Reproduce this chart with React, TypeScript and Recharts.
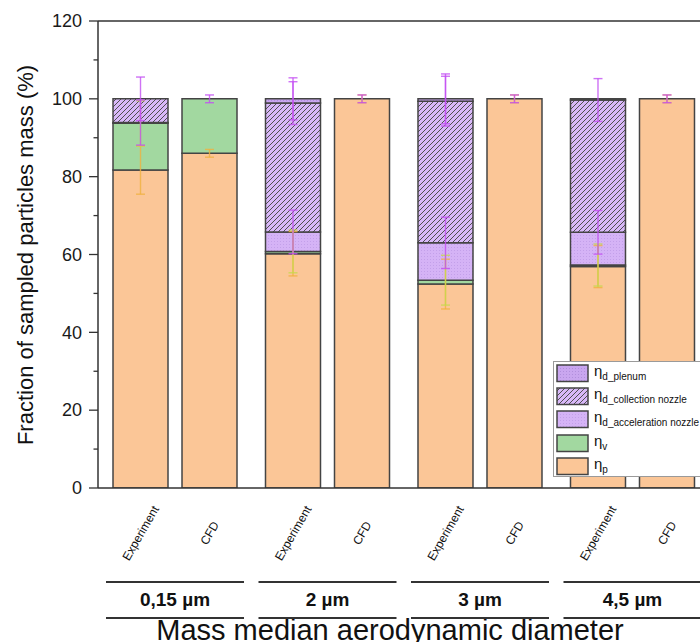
import React from 'react';
import { ComposedChart, Bar, XAxis, YAxis, Scatter, ErrorBar, ReferenceLine } from 'recharts';

// ---------------- data ----------------
const sizeLabels = ['0,15 µm', '2 µm', '3 µm', '4,5 µm'];
const methodLabels = ['Experiment', 'CFD'];

// bar order: Exp 0.15, CFD 0.15, Exp 2, CFD 2, Exp 3, CFD 3, Exp 4.5, CFD 4.5
const etaP = [81.7, 86.0, 60.2, 100, 52.4, 100, 56.9, 100];
const etaV = [12.0, 14.0, 0.6, 0, 1.0, 0, 0.4, 0];
const etaAcc = [0.2, 0, 5.0, 0, 9.6, 0, 8.4, 0];
const etaColl = [6.1, 0, 33.1, 0, 36.4, 0, 34.0, 0];
const etaPlenum = [0, 0, 1.1, 0, 0.6, 0, 0.3, 0];

const errP = [6.2, 1.0, 5.7, 1.0, 6.4, 1.0, 5.4, 1.0];
const errV = [5.8, null, 5.5, null, 6.4, null, 5.4, null];
const errAcc = [5.8, null, 5.6, null, 6.6, null, 5.6, null];
const errColl = [5.6, null, 5.5, null, 6.4, null, 5.5, null];
const errPlenum = [null, 1.0, 5.4, 1.0, 6.4, 1.0, null, 1.0];

const yTicks = [0, 10, 20, 30, 40, 50, 60, 70, 80, 90, 100, 110, 120];

// ---------------- layout constants ----------------
const GROUP_STEP = 2.21; // distance between group starts, in bar slots
const SLOT_PX = 69; // pixel width of one bar slot
const FONT = '"Liberation Sans", Arial, sans-serif';
const C_P = '#fbc697';
const C_V = '#a2d8a0';
const C_LAV = '#d8b8f8';
const ERR_PURPLE = '#c34ff2';
const ERR_ORANGE = '#f0b240';
const ERR_LIME = '#c6da4c';

const rows = etaP.map((_, i) => {
  const g = Math.floor(i / 2);
  const m = i % 2;
  return {
    pos: g * GROUP_STEP + m,
    group: g,
    member: m,
    label: methodLabels[m],
    p: etaP[i],
    v: etaV[i],
    acc: etaAcc[i],
    coll: etaColl[i],
    plenum: etaPlenum[i],
  };
});
const positions = rows.map((r) => r.pos);
const xDomain = [-0.616, positions[positions.length - 1] + 0.616];

const series = [
  { key: 'p', values: etaP, errs: errP, fill: C_P, err: ERR_ORANGE, sub: 'p' },
  { key: 'v', values: etaV, errs: errV, fill: C_V, err: ERR_LIME, sub: 'v' },
  { key: 'acc', values: etaAcc, errs: errAcc, fill: 'url(#dots)', err: ERR_PURPLE, sub: 'd_acceleration nozzle' },
  { key: 'coll', values: etaColl, errs: errColl, fill: 'url(#hatch)', err: ERR_PURPLE, sub: 'd_collection nozzle' },
  { key: 'plenum', values: etaPlenum, errs: errPlenum, fill: 'url(#dotsDark)', err: ERR_PURPLE, sub: 'd_plenum' },
];

const errData = series.map((s, si) =>
  rows
    .map((r, i) => {
      let top = 0;
      for (let k = 0; k <= si; k++) top += series[k].values[i];
      return { pos: r.pos, y: top, e: s.errs[i] };
    })
    .filter((d) => d.e !== null && d.e !== undefined)
);

// ---------------- ticks ----------------
const YTick = (props: any) => {
  const { x, y, payload } = props;
  const v = payload.value;
  const major = v % 20 === 0;
  return (
    <g>
      <line x1={x - (major ? 9 : 4.5)} x2={x} y1={y} y2={y} stroke="#333" strokeWidth={1.3} />
      {major && (
        <text x={x - 16} y={y} dy={6.3} textAnchor="end" fontSize={18} fill="#1a1a1a" fontFamily={FONT}>
          {v}
        </text>
      )}
    </g>
  );
};

const BarTick = (props: any) => {
  const { x, y, index } = props;
  const row = rows[index];
  if (!row) return <g />;
  const cy = y + 45;
  const gx = x + SLOT_PX / 2;
  return (
    <g>
      <text
        x={x}
        y={cy}
        dy="0.35em"
        textAnchor="middle"
        fontSize={12}
        fill="#111"
        fontFamily={FONT}
        transform={`rotate(-60, ${x}, ${cy})`}
      >
        {row.label}
      </text>
      {row.member === 0 && (
        <g>
          <line x1={gx - 69} x2={gx + 69} y1={y + 94} y2={y + 94} stroke="#333" strokeWidth={2} />
          <line x1={gx - 69} x2={gx + 69} y1={y + 130} y2={y + 130} stroke="#333" strokeWidth={2} />
          <text x={gx} y={y + 117.5} textAnchor="middle" fontSize={19} fontWeight="bold" fill="#111" fontFamily={FONT}>
            {sizeLabels[row.group]}
          </text>
        </g>
      )}
    </g>
  );
};

// ---------------- legend ----------------
const legendOrder = [4, 3, 2, 1, 0];

const Legend = () => (
  <div
    style={{
      position: 'absolute',
      left: 553,
      top: 361,
      width: 170,
      height: 116,
      border: '1px solid #9a9a9a',
      background: '#fff',
      boxSizing: 'border-box',
      fontFamily: FONT,
    }}
  >
    {legendOrder.map((si, r) => {
      const s = series[si];
      return (
        <div key={s.key} style={{ position: 'absolute', left: 2, top: 2 + r * 23.2, height: 18, width: 168 }}>
          <svg width={34} height={19} style={{ position: 'absolute', left: 0, top: 0 }}>
            <rect x={1} y={1} width={31} height={16.5} fill={s.fill} stroke="#444" strokeWidth={1.5} />
          </svg>
          <div style={{ position: 'absolute', left: 38, top: -2, whiteSpace: 'nowrap', color: '#111' }}>
            <span style={{ fontSize: 15 }}>η</span>
            <span style={{ fontSize: 10, position: 'relative', top: 4 }}>{s.sub}</span>
          </div>
        </div>
      );
    })}
  </div>
);

export default function App() {
  return (
    <div style={{ position: 'fixed', left: 0, top: 0, width: 700, height: 642, overflow: 'hidden', background: '#fff' }}>
      <div style={{ position: 'absolute', left: 0, top: 0 }}>
        <ComposedChart
          width={760}
          height={642}
          data={rows}
          margin={{ top: 21, right: 50.5, bottom: 0, left: 38 }}
        >
          <defs>
            <pattern id="hatch" patternUnits="userSpaceOnUse" width="5" height="5">
              <rect width="5" height="5" fill={C_LAV} />
              <path d="M-1,1 L1,-1 M0,5 L5,0 M4,6 L6,4" stroke="#505050" strokeWidth="1" />
            </pattern>
            <pattern id="dots" patternUnits="userSpaceOnUse" width="3" height="3">
              <rect width="3" height="3" fill="#d5b3f6" />
              <rect x="1" y="1" width="1" height="1" fill="#c3a0ea" />
            </pattern>
            <pattern id="dotsDark" patternUnits="userSpaceOnUse" width="3" height="3">
              <rect width="3" height="3" fill="#c9a6ef" />
              <rect x="1" y="1" width="1" height="1" fill="#b18fdc" />
            </pattern>
          </defs>
          <XAxis
            dataKey="pos"
            type="number"
            domain={xDomain}
            allowDataOverflow
            ticks={positions}
            interval={0}
            height={154}
            tickSize={0}
            tickMargin={0}
            tickLine={false}
            axisLine={{ stroke: '#333', strokeWidth: 1.5 }}
            tick={<BarTick />}
          />
          <YAxis
            type="number"
            domain={[0, 120]}
            allowDataOverflow
            ticks={yTicks}
            interval={0}
            width={60}
            tickSize={0}
            tickMargin={0}
            tickLine={false}
            axisLine={{ stroke: '#333', strokeWidth: 1.5 }}
            tick={<YTick />}
          />
          <ReferenceLine y={120} stroke="#333" strokeWidth={1.5} />
          {series.map((s) => (
            <Bar
              key={s.key}
              dataKey={s.key}
              stackId="a"
              barSize={55}
              fill={s.fill}
              stroke="#444"
              strokeWidth={1.5}
              isAnimationActive={false}
            />
          ))}
          {series.map((s, si) => (
            <Scatter
              key={'e' + s.key}
              data={errData[si]}
              dataKey="y"
              shape={() => <g />}
              isAnimationActive={false}
            >
              <ErrorBar dataKey="e" direction="y" width={4.5} stroke={s.err} strokeWidth={1.4} strokeOpacity={0.8} />
            </Scatter>
          ))}
          <text x={33} y={255} textAnchor="middle" fontSize={22} fill="#111" fontFamily={FONT} transform="rotate(-90, 33, 255)">
            Fraction of sampled particles mass (%)
          </text>
          <text x={390} y={640} textAnchor="middle" fontSize={29} fill="#111" fontFamily={FONT}>
            Mass median aerodynamic diameter
          </text>
        </ComposedChart>
      </div>
      <Legend />
    </div>
  );
}
